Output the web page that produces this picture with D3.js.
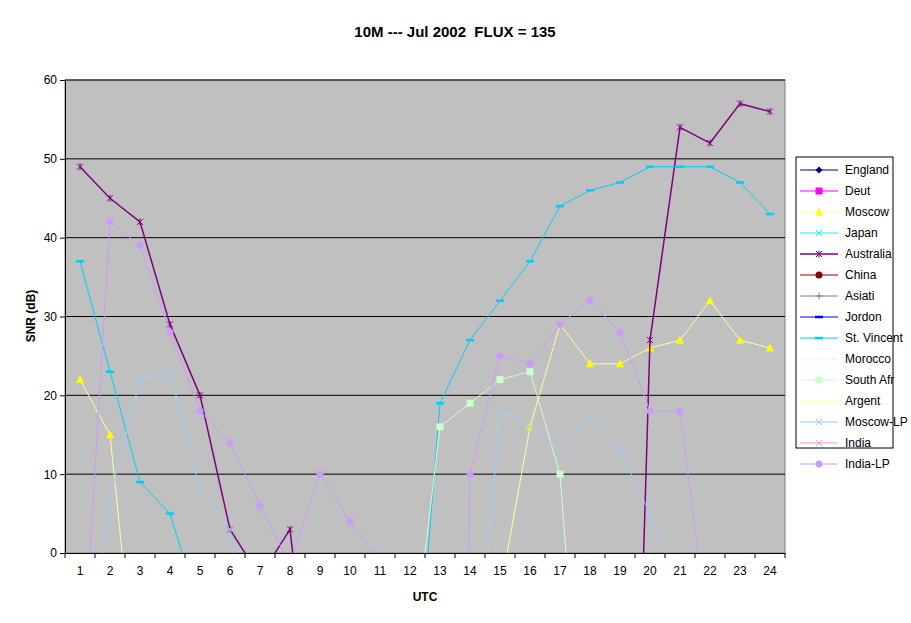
<!DOCTYPE html>
<html><head><meta charset="utf-8">
<script src="https://cdn.jsdelivr.net/npm/d3@7"></script>
<style>body{margin:0;background:#fff;font-family:"Liberation Sans",Arial,sans-serif}</style>
</head><body><svg id="c" width="911" height="623"></svg>
<script>
const categories = d3.range(1,25);
const yTicks = [0,10,20,30,40,50,60];
const seriesNames = ["England","Deut","Moscow","Japan","Australia","China","Asiati","Jordon","St. Vincent","Morocco","South Afr","Argent","Moscow-LP","India","India-LP"];
const colors = ["#000080","#FF00FF","#FFFF00","#00FFFF","#800080","#800000","#808080","#0000FF","#00CCFF","#CCFFFF","#CCFFCC","#FFFF99","#99CCFF","#FF99CC","#CC99FF"];
const lineColors = ["#000080","#FF00FF","#FFFF99","#00FFFF","#800080","#800000","#808080","#0000FF","#00CCFF","#CCFFFF","#CCFFCC","#FFFF99","#99CCFF","#FF99CC","#CC99FF"];
const markers = ["diamond","square","triangle","x","star","circle","plus","dash","dash","none","square","none","x","x","circle"];
const N = null;
const england = Array(24).fill(N), deut = Array(24).fill(N), japan = Array(24).fill(N), china = Array(24).fill(N), asiati = Array(24).fill(N), jordon = Array(24).fill(N), morocco = Array(24).fill(N), argent = Array(24).fill(N), india = Array(24).fill(N);
const moscow =    [22,15,-22,N,N,N,N,N,N,N,N,N,N,N,-5,16,29,24,24,26,27,32,27,26];
const australia = [49,45,42,29,20,3,-3,3,-30,N,N,N,N,N,N,N,N,N,-100,27,54,52,57,56];
const stvincent = [37,23,9,5,-7.5,N,N,N,N,N,N,-28,19,27,32,37,44,46,47,49,49,49,47,43];
const southafr =  [N,N,N,N,N,N,N,N,N,N,N,-16,16,19,22,23,10,-40,N,N,N,N,N,N];
const moscowlp =  [-23,7,22,23,8,3,-30,N,N,N,N,N,N,-27,18,16,13,17,13,5,-5,N,N,N];
const indialp =   [-21,42,39,28,18,14,6,-1.5,10,4,-1,N,-200,10,25,24,29,32,28,18,18,-12,N,N];
const allData = [england,deut,moscow,japan,australia,china,asiati,jordon,stvincent,morocco,southafr,argent,moscowlp,india,indialp];

const svg = d3.select("#c");
const L=65,R=785,T=80,B=553;
const x = d3.scalePoint().domain(categories).range([L,R]).padding(0.5);
const xb = d3.scaleBand().domain(categories).range([L,R]);
const y = d3.scaleLinear().domain([0,60]).range([B,T]);

svg.append("rect").attr("x",L).attr("y",T).attr("width",R-L).attr("height",B-T).attr("fill","#C0C0C0").attr("stroke","#808080");
svg.selectAll(".g").data(yTicks.slice(1)).enter().append("line").attr("x1",L).attr("x2",R).attr("y1",d=>y(d)).attr("y2",d=>y(d)).attr("stroke","#000");
svg.append("defs").append("clipPath").attr("id","cp").append("rect").attr("x",L).attr("y",T-10).attr("width",R-L).attr("height",B-T+10);

// axes
const ya = svg.append("g").attr("transform",`translate(${L},0)`).call(d3.axisLeft(y).tickValues(yTicks).tickSize(5).tickSizeOuter(0));
const xa = svg.append("g").attr("transform",`translate(0,${B})`).call(d3.axisBottom(xb).tickSize(5).tickSizeOuter(0));
xa.selectAll(".tick line").attr("transform",`translate(${-xb.bandwidth()/2},0)`);
xa.append("line").attr("x1",R).attr("x2",R).attr("y1",0).attr("y2",5).attr("stroke","#000");
[ya,xa].forEach(a=>{a.selectAll("text").attr("font-size",12).attr("fill","#000").attr("font-family","Liberation Sans, Arial");a.selectAll("line,path").attr("stroke","#000");});
xa.selectAll("text").attr("dy","1.2em");

function marker(g,type,cx,cy,col){
  const s=3.5;
  if(type==="diamond") g.append("path").attr("d",`M${cx},${cy-s}L${cx+s},${cy}L${cx},${cy+s}L${cx-s},${cy}Z`).attr("fill",col);
  else if(type==="square") g.append("rect").attr("x",cx-s).attr("y",cy-s).attr("width",2*s).attr("height",2*s).attr("fill",col);
  else if(type==="triangle") g.append("path").attr("d",`M${cx},${cy-s-1}L${cx+s+0.5},${cy+s}L${cx-s-0.5},${cy+s}Z`).attr("fill",col);
  else if(type==="circle") g.append("circle").attr("cx",cx).attr("cy",cy).attr("r",s).attr("fill",col);
  else if(type==="x") g.append("path").attr("d",`M${cx-3},${cy-3}L${cx+3},${cy+3}M${cx-3},${cy+3}L${cx+3},${cy-3}`).attr("stroke",col);
  else if(type==="star") g.append("path").attr("d",`M${cx-3},${cy-3}L${cx+3},${cy+3}M${cx-3},${cy+3}L${cx+3},${cy-3}M${cx},${cy-3.5}L${cx},${cy+3.5}`).attr("stroke",col);
  else if(type==="plus") g.append("path").attr("d",`M${cx-3.5},${cy}L${cx+3.5},${cy}M${cx},${cy-3.5}L${cx},${cy+3.5}`).attr("stroke",col);
  else if(type==="dash") g.append("path").attr("d",`M${cx-4},${cy}L${cx+4},${cy}`).attr("stroke",col).attr("stroke-width",2.5);
}

const line = d3.line().defined(d=>d.v!==null).x(d=>x(d.c)).y(d=>y(d.v));
const plot = svg.append("g").attr("clip-path","url(#cp)");
allData.forEach((arr,i)=>{
  const pts = categories.map((c,j)=>({c,v:arr[j]}));
  plot.append("path").attr("d",line(pts)).attr("fill","none").attr("stroke",lineColors[i]).attr("stroke-width",i===4?1.5:1);
  pts.filter(p=>p.v!==null&&p.v>=0).forEach(p=>marker(plot,markers[i],x(p.c),y(p.v),colors[i]));
});

// legend
const lg = svg.append("g");
lg.append("rect").attr("x",796).attr("y",157).attr("width",97).attr("height",291).attr("fill","#fff").attr("stroke","#000");
seriesNames.forEach((n,i)=>{
  const yy=170+i*21;
  lg.append("line").attr("x1",800).attr("x2",838).attr("y1",yy).attr("y2",yy).attr("stroke",lineColors[i]).attr("stroke-width",i===4?1.5:1);
  marker(lg,markers[i],819,yy,colors[i]);
  lg.append("text").attr("x",845).attr("y",yy+4).attr("font-size",12).text(n);
});

svg.append("text").attr("x",455).attr("y",37).attr("text-anchor","middle").attr("font-size",15).attr("font-weight","bold").text("10M --- Jul 2002  FLUX = 135").attr("xml:space","preserve").style("white-space","pre");
svg.append("text").attr("x",425).attr("y",601).attr("text-anchor","middle").attr("font-size",12).attr("font-weight","bold").text("UTC");
svg.append("text").attr("transform","translate(35,316) rotate(-90)").attr("text-anchor","middle").attr("font-size",12).attr("font-weight","bold").text("SNR (dB)");
</script></body></html>
